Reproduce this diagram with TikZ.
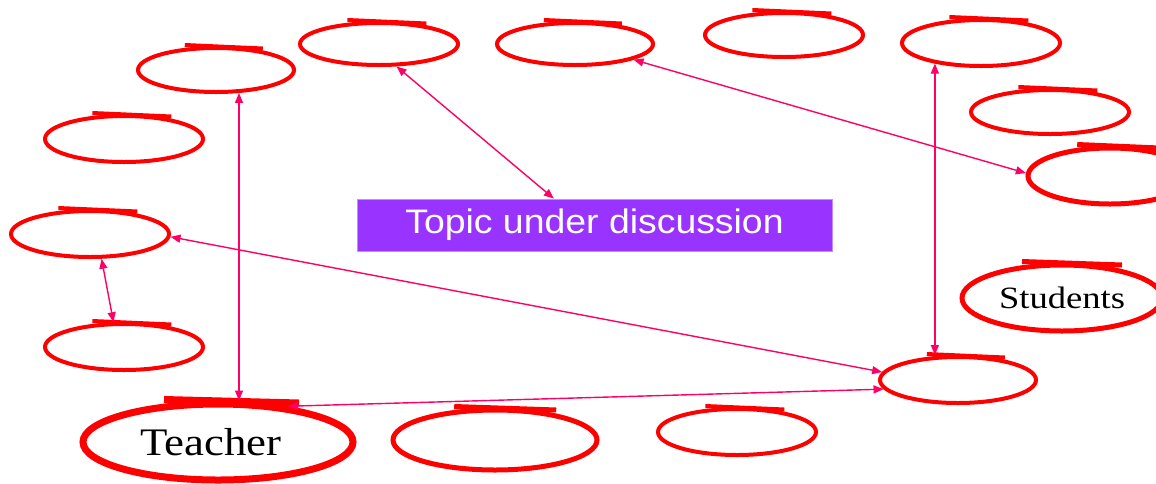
\documentclass[tikz,border=0pt]{standalone}
\usepackage{fontspec}
\usepackage{graphicx}
\setmainfont{Liberation Serif}
\newfontfamily\topicfont{Liberation Sans}
\usetikzlibrary{arrows.meta,shapes.geometric,calc}

\definecolor{ringred}{HTML}{FF0000}
\definecolor{linkpink}{HTML}{FF0066}
\definecolor{topicfill}{HTML}{9933FF}
\definecolor{topicedge}{HTML}{C58CFF}

\tikzset{
  hoop/.style={ellipse, draw=ringred, inner sep=0pt},
  hooptail/.style={draw=ringred, line cap=butt},
  conn/.style={draw=linkpink, line width=1.4pt,
    {Triangle[length=10pt,width=8pt]}-{Triangle[length=10pt,width=8pt]}},
  topicbox/.style={rectangle, fill=topicfill, draw=topicedge, line width=0.8pt,
    minimum width=475pt, minimum height=52pt, inner sep=0pt,
    text=white, font=\topicfont\fontsize{34}{38}\selectfont},
}

% name, x, y, half width, half height, stroke width, text
\newcommand\penring[7]{%
  \node[hoop, line width=#6, minimum width=2*#4, minimum height=2*#5] (#1) at (#2,#3) {#7};
  \draw[hooptail, line width=#6] ($(#1.north)+(-0.4*#4,-1)$) -- ($(#1.north)+(0.6*#4,2.5)$);
}

\begin{document}
\begin{tikzpicture}[x=1pt,y=-1pt]
  \useasboundingbox (0,0) rectangle (1156,483);
  \clip (0,0) rectangle (1156,483);

  % top row
  \penring{ea}{216}{70}{78}{22}{4pt}{}
  \penring{eb}{379}{44}{79}{21}{4pt}{}
  \penring{ec}{575}{44}{78}{21}{4pt}{}
  \penring{ed}{784}{35}{79}{22}{4pt}{}
  \penring{ee}{981}{43}{79}{23}{4pt}{}
  % right side
  \penring{ef}{1050}{112}{79}{22}{4pt}{}
  \penring{eg}{1110}{176}{82}{28}{5pt}{}
  \penring{students}{1062}{298}{100}{33}{5pt}%
    {\fontsize{31}{34}\selectfont\scalebox{1.18}[1]{Students}}
  \penring{eh}{958}{380}{78}{23}{4pt}{}
  % left side
  \penring{el1}{124}{139}{79}{23}{4pt}{}
  \penring{el2}{90}{234}{79}{23}{4pt}{}
  \penring{el3}{124}{347}{79}{23}{4pt}{}
  % bottom row
  \penring{teacher}{218}{442}{135}{38}{7pt}%
    {\fontsize{39}{42}\selectfont\hspace*{-14pt}\scalebox{1.15}[1]{Teacher}}
  \penring{eb2}{495}{440}{102}{30}{5pt}{}
  \penring{eb3}{737}{432}{79}{23}{4pt}{}

  % topic
  \node[topicbox] (topic) at (594.5,225) {\scalebox{1.1}[1]{Topic under discussion}};

  % links
  \draw[conn] (ea.-45) -- (ea.-45 |- teacher.north);
  \draw[conn] (eb.-52) -- (topic.147);
  \draw[conn] (ec.-15) -- (eg.178);
  \draw[conn] (ee.-156) -- (ee.-156 |- eh.north);
  \draw[conn] (el2.-2) -- (eh.174);
  \draw[conn] (eh.187) -- (teacher.27);
  \draw[conn] (el2.-65) -- (el3.113);
\end{tikzpicture}
\end{document}
